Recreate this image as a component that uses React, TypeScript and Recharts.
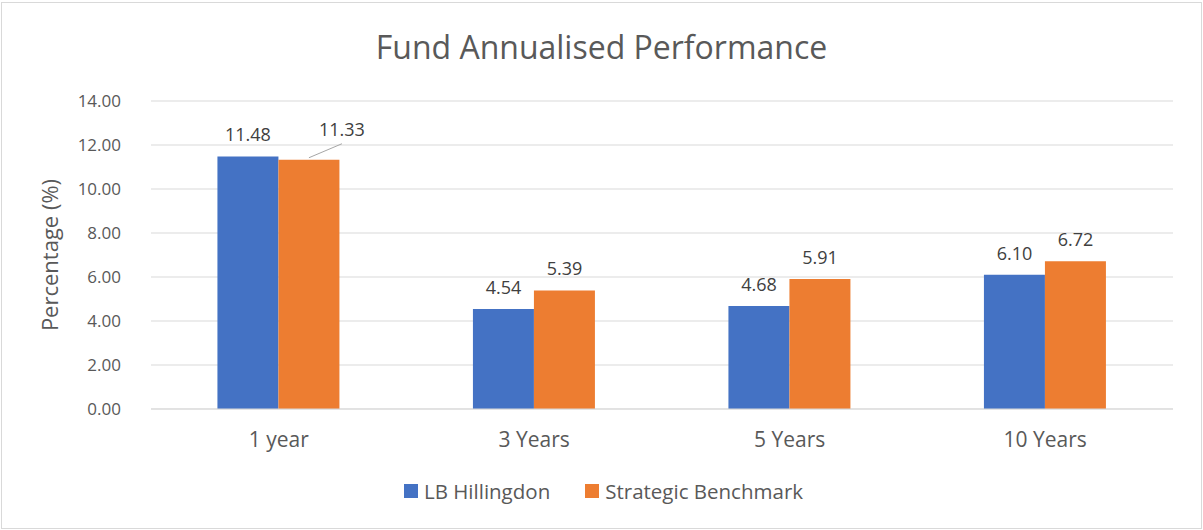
import React from 'react';
import { BarChart, Bar, XAxis, YAxis, CartesianGrid, Legend, LabelList } from 'recharts';

const periods = ['1 year', '3 Years', '5 Years', '10 Years'];
const hillingdon = [11.48, 4.54, 4.68, 6.1];
const benchmark = [11.33, 5.39, 5.91, 6.72];
const yTicks = [0, 2, 4, 6, 8, 10, 12, 14];

const data = periods.map((p, i) => ({
    period: p,
    hillingdon: hillingdon[i],
    benchmark: benchmark[i],
}));

const FONT = '"Open Sans", sans-serif';
const TEXT = '#595959';
const LABEL = '#404040';

const fmt = (v: number) => Number(v).toFixed(2);

// the first benchmark label sits off to the right with a leader line, like in Excel
const BenchLabel = (props: any) => {
    const { x, y, width, value, index } = props;
    const cx = x + width / 2;
    if (index === 0) {
        return (
            <g>
                <line x1={cx} y1={y - 2} x2={cx + 33} y2={y - 16} stroke="#a6a6a6" strokeWidth={1} />
                <text x={cx + 33} y={y - 24} textAnchor="middle" fontSize={18} fill={LABEL} fontFamily={FONT}>
                    {fmt(value)}
                </text>
            </g>
        );
    }
    return (
        <text x={cx} y={y - 15} textAnchor="middle" fontSize={18} fill={LABEL} fontFamily={FONT}>
            {fmt(value)}
        </text>
    );
};

const FundLabel = (props: any) => {
    const { x, y, width, value } = props;
    return (
        <text x={x + width / 2} y={y - 15} textAnchor="middle" fontSize={18} fill={LABEL} fontFamily={FONT}>
            {fmt(value)}
        </text>
    );
};

const LegendBox = (props: any) => {
    const items = props.payload || [];
    return (
        <div style={{ display: 'flex', justifyContent: 'center', gap: 35, paddingLeft: 14, fontFamily: FONT }}>
            {items.map((it: any) => (
                <div key={it.value} style={{ display: 'flex', alignItems: 'center', gap: 6 }}>
                    <span style={{ width: 14, height: 14, background: it.color, display: 'inline-block' }} />
                    <span style={{ fontSize: 20.5, color: TEXT, lineHeight: '24px' }}>{it.value}</span>
                </div>
            ))}
        </div>
    );
};

const App: React.FC = () => {
    return (
        <div style={{ position: 'absolute', left: 0, top: 0, width: 1203, height: 530, fontFamily: FONT }}>
            <div
                style={{
                    position: 'absolute',
                    left: 1,
                    top: 2,
                    width: 1199,
                    height: 525,
                    border: '1px solid #d9d9d9',
                }}
            />
            <div
                style={{
                    position: 'absolute',
                    left: 0,
                    top: 25,
                    width: 1203,
                    textAlign: 'center',
                    fontSize: 32,
                    color: TEXT,
                }}
            >
                Fund Annualised Performance
            </div>
            <BarChart
                width={1203}
                height={530}
                data={data}
                margin={{ top: 101, right: 30, bottom: 27, left: 20 }}
                barCategoryGap="26%"
                barGap={0}
                style={{ position: 'absolute', left: 0, top: 0 }}
            >
                <CartesianGrid vertical={false} stroke="#d9d9d9" />
                <XAxis
                    dataKey="period"
                    height={70}
                    tickLine={false}
                    axisLine={{ stroke: '#d9d9d9' }}
                    tick={{ fontSize: 21, fill: TEXT, fontFamily: FONT }}
                    tickMargin={17}
                />
                <YAxis
                    width={131}
                    domain={[0, 14]}
                    ticks={yTicks}
                    tickFormatter={fmt}
                    axisLine={false}
                    tickLine={false}
                    tickMargin={24}
                    tick={{ fontSize: 17, fill: TEXT, fontFamily: FONT }}
                    label={{
                        value: 'Percentage (%)',
                        angle: -90,
                        position: 'insideLeft',
                        offset: 30,
                        style: { textAnchor: 'middle', fontSize: 22, fill: TEXT, fontFamily: FONT },
                    }}
                />
                <Legend verticalAlign="bottom" content={LegendBox} />
                <Bar dataKey="hillingdon" name="LB Hillingdon" fill="#4472C4" isAnimationActive={false}>
                    <LabelList dataKey="hillingdon" content={FundLabel} />
                </Bar>
                <Bar dataKey="benchmark" name="Strategic Benchmark" fill="#ED7D31" isAnimationActive={false}>
                    <LabelList dataKey="benchmark" content={BenchLabel} />
                </Bar>
            </BarChart>
        </div>
    );
};

export default App;
